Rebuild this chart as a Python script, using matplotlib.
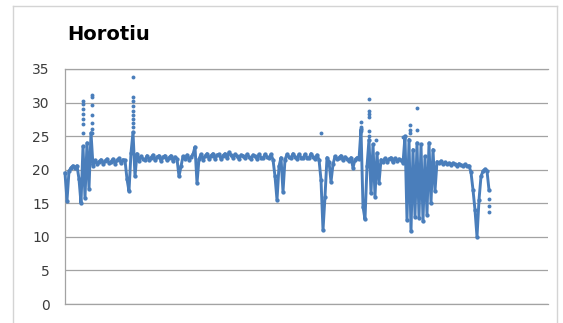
import matplotlib
matplotlib.use("Agg")
import matplotlib.pyplot as plt
from matplotlib.lines import Line2D
import numpy as np

# Water temperature readings (deg C), one reading per sample index
temp = [
    19.5, 15.4, 19.8, 20.3, 20.6, 20.3, 20.6, 18.6, 15.0, 23.5,
    15.8, 24.0, 17.2, 25.5, 20.6, 21.4, 20.9, 21.2, 21.5, 20.9,
    21.3, 21.6, 21.0, 21.2, 21.6, 20.9, 21.4, 21.7, 21.0, 21.5,
    21.4, 18.6, 16.8, 22.5, 25.6, 19.0, 22.4, 21.3, 22.0, 21.6,
    21.4, 22.1, 21.5, 21.8, 22.2, 21.4, 21.9, 22.1, 21.3, 21.9,
    22.1, 21.4, 21.8, 22.1, 21.3, 21.9, 21.6, 19.0, 20.5, 22.0,
    21.6, 22.2, 21.5, 21.9, 22.3, 23.4, 18.0, 21.6, 22.3, 21.5,
    22.0, 22.4, 21.6, 22.1, 22.4, 21.6, 22.2, 22.3, 21.6, 22.1,
    22.4, 21.7, 22.6, 22.2, 21.8, 22.3, 22.0, 21.6, 22.2, 22.1,
    21.7, 22.3, 21.9, 21.6, 22.2, 22.0, 21.6, 22.3, 21.8, 21.7,
    22.3, 21.9, 21.7, 22.3, 21.5, 19.0, 15.5, 20.5, 21.8, 16.7,
    21.5, 22.3, 21.9, 21.7, 22.4, 21.9, 21.6, 22.3, 21.8, 21.7,
    22.3, 21.8, 21.7, 22.4, 21.9, 21.6, 22.2, 21.5, 18.5, 11.0,
    16.0, 21.8, 21.2, 18.2, 20.8, 22.0, 21.6, 21.8, 22.1, 21.4,
    21.9, 21.6, 21.3, 21.8, 20.3, 21.5, 21.8, 21.6, 26.0, 14.5,
    12.6, 20.5, 24.5, 16.5, 23.8, 16.0, 22.5, 18.0, 21.5, 21.2,
    21.7, 21.2, 21.6, 21.8, 21.1, 21.7, 21.3, 21.6, 21.4, 21.0,
    25.0, 12.5, 24.5, 10.8, 23.0, 13.0, 24.0, 12.8, 23.8, 12.3,
    22.0, 13.3, 24.0, 15.0, 23.0, 16.8, 21.2, 21.0, 21.3, 20.8,
    21.1, 20.8, 21.0, 20.7, 21.0, 20.8, 20.6, 20.9, 20.7, 20.6,
    20.8, 20.5, 20.6, 19.6, 17.0, 14.0, 10.0, 15.5, 19.0, 19.8,
    20.1, 19.8, 17.0,
]

# Isolated readings during the spikes (sample index, deg C)
spot_idx = [9, 9, 9, 9, 9, 9, 9,
            13.5, 13.5, 13.5, 13.5, 13.5, 13.5, 13.5,
            34, 34, 34, 34, 34, 34, 34, 34, 34,
            128,
            148, 148, 148,
            152, 152, 152, 152, 152, 152,
            155.5, 169,
            172.5, 172.5, 172.5,
            176, 176,
            212, 212, 212]
spot_temp = [25.5, 26.8, 27.6, 28.3, 29.0, 29.8, 30.3,
             31.2, 30.8, 29.7, 28.2, 27.0, 26.0, 25.4,
             33.8, 30.8, 30.2, 29.5, 28.8, 28.2, 27.5, 26.9, 26.4,
             25.5,
             27.1, 26.4, 25.7,
             30.6, 28.7, 28.3, 27.8, 25.8, 25.0,
             24.4, 24.9,
             26.7, 25.9, 25.4,
             29.2, 25.9,
             15.6, 14.6, 13.7]

y_ticks = [0, 5, 10, 15, 20, 25, 30, 35]

W, H = 563, 323
fig = plt.figure(figsize=(W / 100, H / 100), dpi=100)
fig.patch.set_facecolor("white")

ax = fig.add_axes([65 / W, 1 - 304 / H, (548 - 65) / W, (304 - 69) / H])
blue = "#4A7EBB"
idx = np.arange(len(temp))
ax.plot(idx, temp, "-", color=blue, lw=2.1, marker="o", ms=3.1,
        mec="none", mfc=blue, zorder=3, clip_on=False,
        solid_joinstyle="round")
ax.plot(spot_idx, spot_temp, "o", color=blue, ms=2.8, mec="none", zorder=3)

ax.set_xlim(0, 241.5)
ax.set_ylim(0, 35)
ax.set_yticks(y_ticks)
ax.set_xticks([])
grid_c = "#a3a3a3"
ax.yaxis.grid(True, color=grid_c, lw=0.9)
ax.set_axisbelow(True)
for side in ("top", "bottom", "left"):
    ax.spines[side].set_color(grid_c)
    ax.spines[side].set_linewidth(0.9)
ax.spines["right"].set_visible(False)
ax.tick_params(axis="y", length=0, pad=11, labelsize=10, labelcolor="#3c3c3c")
for lab in ax.get_yticklabels():
    lab.set_family("DejaVu Sans")

fig.text(67 / W, 1 - 40 / H, "Horotiu", fontsize=14, fontweight="bold",
         family="DejaVu Sans", color="black", ha="left", va="baseline")

# Chart frame
frame_c = "#d4d4d4"
px = lambda x, y: (x / W, 1 - y / H)
for (x0, y0), (x1, y1) in [((13, 6), (557, 6)), ((13, 6), (13, 323)),
                           ((557, 6), (557, 323))]:
    a, b = px(x0, y0), px(x1, y1)
    fig.add_artist(Line2D([a[0], b[0]], [a[1], b[1]], color=frame_c, lw=1.0))

fig.savefig("out.png", dpi=100)
